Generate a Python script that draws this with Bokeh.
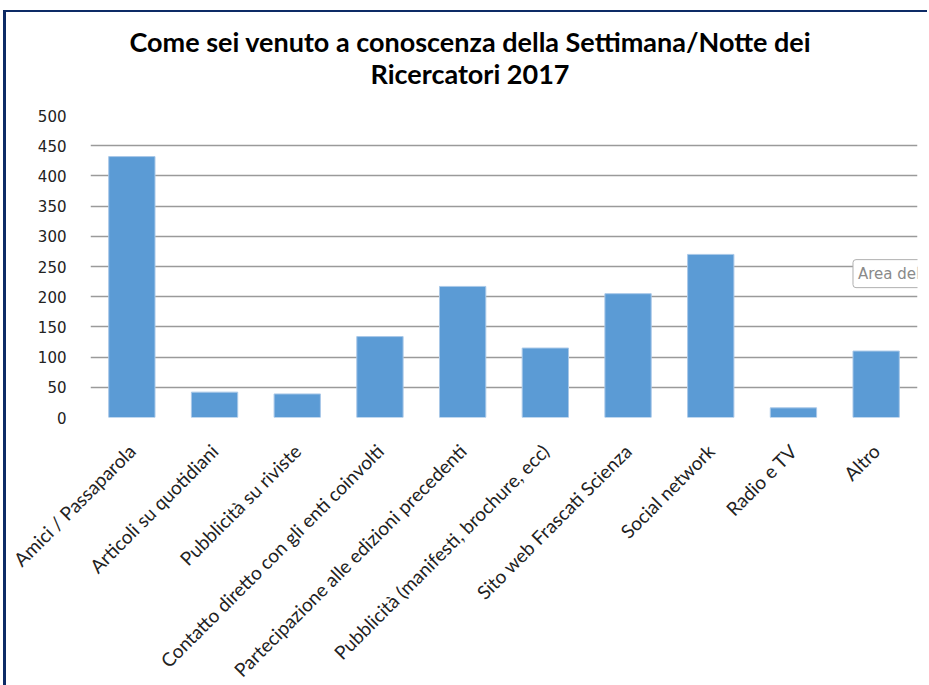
import math
from bokeh.plotting import figure
from bokeh.models import Range1d, Label, Title
from bokeh.embed import file_html
from bokeh.resources import INLINE

categories = [
    "Amici / Passaparola",
    "Articoli su quotidiani",
    "Pubblicità su riviste",
    "Contatto diretto con gli enti coinvolti",
    "Partecipazione alle edizioni precedenti",
    "Pubblicità (manifesti, brochure, ecc)",
    "Sito web Frascati Scienza",
    "Social network",
    "Radio e TV",
    "Altro",
]
values = [432, 42, 39, 134, 217, 115, 205, 270, 16, 110]
y_ticks = [0, 50, 100, 150, 200, 250, 300, 350, 400, 450, 500]
title_lines = ["Come sei venuto a conoscenza della Settimana/Notte dei", "Ricercatori 2017"]

p = figure(
    x_range=categories,
    y_range=Range1d(0, 500),
    frame_width=827,
    frame_height=302,
    min_border_left=84,
    min_border_right=10,
    min_border_top=103,
    min_border_bottom=266,
    output_backend="svg",
    toolbar_location=None,
)
p.styles = {
    "border-left": "3px solid #0d2b66",
    "border-top": "2px solid #0d2b66",
    "margin-left": "3px",
    "margin-top": "10px",
}

p.vbar(x=categories, top=values, width=0.56, fill_color="#5b9bd5", line_color="#a9c8e8", line_width=1)

p.outline_line_color = None
p.background_fill_color = "white"
p.border_fill_color = "white"

p.xgrid.grid_line_color = None
p.ygrid.grid_line_color = "#9a9a9a"
p.ygrid.grid_line_width = 1.6
p.yaxis.ticker = y_ticks

for ax in (p.xaxis, p.yaxis):
    ax.axis_line_color = None
    ax.major_tick_line_color = None
    ax.minor_tick_line_color = None

p.yaxis.major_label_text_font = "DejaVu Sans"
p.yaxis.major_label_text_font_size = "15px"
p.yaxis.major_label_text_color = "#222222"
p.yaxis.major_label_standoff = 18

p.xaxis.major_label_orientation = math.pi / 4
p.xaxis.major_label_text_font = "Lato"
p.xaxis.major_label_text_font_size = "19px"
p.xaxis.major_label_text_color = "#222222"
p.xaxis.major_label_standoff = 24

# spacer between plot frame and title block
p.add_layout(Title(text=" ", text_font_size="10px", standoff=13), "above")
p.add_layout(Title(text=title_lines[1], text_font="Lato", text_font_style="bold",
                   text_font_size="27px", align="left", offset=280, standoff=0,
                   text_color="#000000"), "above")
p.add_layout(Title(text=title_lines[0], text_font="Lato", text_font_style="bold",
                   text_font_size="27px", align="left", offset=39, standoff=-6,
                   text_color="#000000"), "above")

p.add_layout(Label(x=9.22, y=215, text="Area del", text_font="DejaVu Sans", text_font_size="15px",
                   text_color="#8a8a8a", text_baseline="bottom", background_fill_color="white",
                   border_line_color="#b0b0b0", padding=5, border_radius=3))

open("out.html", "w").write(file_html(p, INLINE))
